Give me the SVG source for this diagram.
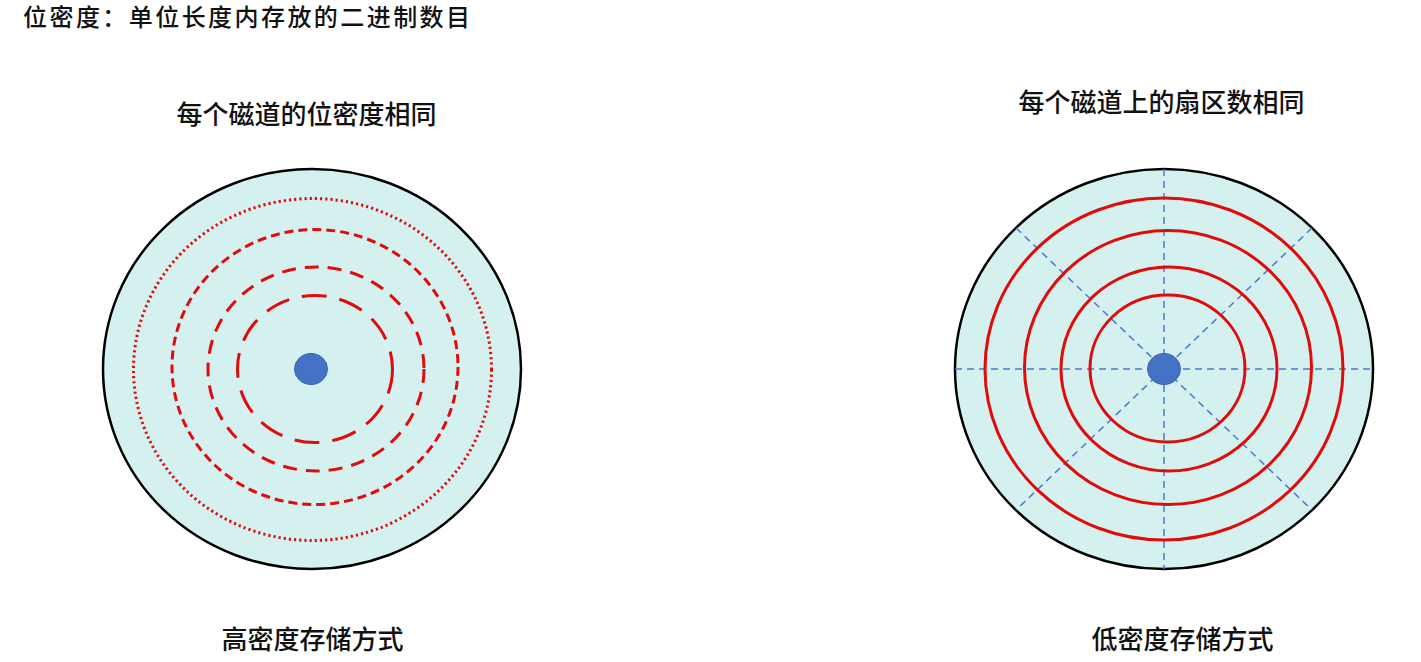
<svg xmlns="http://www.w3.org/2000/svg" width="1421" height="662" viewBox="0 0 1421 662">
<style>
.bg{fill:#ffffff}
.disk{fill:#d4f1ef;stroke:#000000;stroke-width:2.5}
.track{fill:none;stroke:#e00b0b;stroke-width:3}
.dot{fill:#4472c4;stroke:#3a64ad;stroke-width:1}
.sector{stroke:#4d78d0;stroke-width:1.5;stroke-dasharray:7 5;fill:none}
.t{font-family:"Noto Sans CJK SC","Noto Sans",sans-serif;font-weight:500;fill:#111111}
</style>
<rect class="bg" x="0" y="0" width="1421" height="662"/>
<g id="title">
<text class="t" x="23" y="26" font-size="24" textLength="447" lengthAdjust="spacing">位密度：单位长度内存放的二进制数目</text>
</g>
<g id="label-left-top">
<text class="t" x="306.5" y="124" font-size="26" text-anchor="middle" font-weight="700">每个磁道的位密度相同</text>
</g>
<g id="label-right-top">
<text class="t" x="1161.5" y="112" font-size="26" text-anchor="middle" font-weight="700">每个磁道上的扇区数相同</text>
</g>
<g id="label-left-bottom">
<text class="t" x="312.5" y="649" font-size="26" text-anchor="middle">高密度存储方式</text>
</g>
<g id="label-right-bottom">
<text class="t" x="1182.5" y="649" font-size="26" text-anchor="middle">低密度存储方式</text>
</g>
<g id="disk-left">
<ellipse class="disk" cx="312" cy="369" rx="209" ry="200"/>
<ellipse class="track" cx="312.5" cy="369.5" rx="179" ry="171" stroke-width="2.5" stroke-dasharray="2.2 3"/>
<ellipse class="track" cx="315" cy="367" rx="143" ry="137.5" stroke-dasharray="9 5"/>
<ellipse class="track" cx="316" cy="369" rx="108" ry="102" stroke-dasharray="14 9"/>
<ellipse class="track" cx="315" cy="369" rx="77.5" ry="73.5" stroke-dasharray="25 13"/>
<ellipse class="dot" cx="311" cy="369" rx="16.5" ry="15.5"/>
</g>
<g id="disk-right-platter">
<ellipse class="disk" cx="1164" cy="369" rx="209" ry="200"/>
</g>
<g id="sectors">
<line class="sector" x1="955" y1="369" x2="1373" y2="369"/>
<line class="sector" x1="1164" y1="169" x2="1164" y2="569"/>
<line class="sector" x1="1016" y1="228" x2="1312" y2="510"/>
<line class="sector" x1="1312" y1="228" x2="1016" y2="510"/>
</g>
<g id="disk-right">
<ellipse class="track" cx="1164" cy="369" rx="179" ry="171"/>
<ellipse class="track" cx="1168" cy="367.5" rx="143.5" ry="137"/>
<ellipse class="track" cx="1169" cy="369" rx="108" ry="102"/>
<ellipse class="track" cx="1167.5" cy="368.5" rx="77.5" ry="73.5"/>
<ellipse class="dot" cx="1164" cy="369" rx="16.5" ry="15.5"/>
</g>
</svg>
